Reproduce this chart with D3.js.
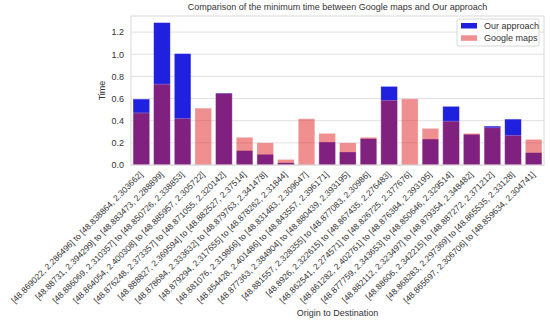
<!DOCTYPE html>
<html>
<head>
<meta charset="utf-8">
<script src="https://cdn.jsdelivr.net/npm/d3@7"></script>
<style>
  body { margin: 0; background: #fff; }
  text { font-family: Arial, "Liberation Sans", sans-serif; fill: #333; }
</style>
</head>
<body>
<svg id="viz" width="550" height="320"></svg>
<script>
/* min travel time: our approach vs google maps */

const routes = [
  "[48.869022, 2.286496] to [48.838864, 2.303662]",
  "[48.88731, 2.394299] to [48.883473, 2.288899]",
  "[48.886069, 2.310357] to [48.850726, 2.338853]",
  "[48.864054, 2.400308] to [48.885957, 2.305722]",
  "[48.876248, 2.373357] to [48.871055, 2.320142]",
  "[48.888827, 2.369594] to [48.882527, 2.37514]",
  "[48.878684, 2.333632] to [48.879763, 2.341478]",
  "[48.879294, 2.317655] to [48.878262, 2.31844]",
  "[48.881076, 2.319866] to [48.831483, 2.309647]",
  "[48.854428, 2.401486] to [48.843557, 2.396171]",
  "[48.877363, 2.384904] to [48.880439, 2.393195]",
  "[48.881557, 2.328355] to [48.877083, 2.30986]",
  "[48.8926, 2.322615] to [48.867435, 2.276483]",
  "[48.862541, 2.274571] to [48.826725, 2.377676]",
  "[48.861282, 2.402761] to [48.876384, 2.393195]",
  "[48.877759, 2.343653] to [48.850646, 2.329514]",
  "[48.882112, 2.323497] to [48.879354, 2.348482]",
  "[48.88606, 2.342215] to [48.887272, 2.371212]",
  "[48.868283, 2.297369] to [48.865535, 2.33128]",
  "[48.865697, 2.306706] to [48.859634, 2.304741]"
];

const ourTimes = [0.595, 1.285, 1.005, 0, 0.65, 0.13, 0.096, 0.02, 0, 0.207,
                  0.117, 0.237, 0.709, 0, 0.234, 0.529, 0.276, 0.351, 0.414, 0.111];

const googleTimes = [0.47, 0.73, 0.42, 0.513, 0.645, 0.25, 0.2, 0.05, 0.417, 0.285,
                     0.2, 0.25, 0.583, 0.597, 0.33, 0.396, 0.285, 0.336, 0.267, 0.231];

const yTicks = [0, 0.2, 0.4, 0.6, 0.8, 1.0, 1.2];

const series = [
  { name: "Our approach", values: ourTimes,    color: "rgb(32,32,223)", opacity: 1 },
  { name: "Google maps",  values: googleTimes, color: "rgb(223,32,32)", opacity: 0.5 }
];

const svg = d3.select("#viz");
const m = { left: 131, right: 544, top: 16, bottom: 165 };

const x = d3.scaleBand().domain(routes).range([m.left, m.right]).paddingInner(0.2).paddingOuter(0.1);
const y = d3.scaleLinear().domain([0, 1.345]).range([m.bottom, m.top]);

// grid
svg.append("g").selectAll("line")
  .data(yTicks)
  .enter().append("line")
    .attr("x1", m.left).attr("x2", m.right)
    .attr("y1", d => y(d)).attr("y2", d => y(d))
    .attr("stroke", "#e0e0e0").attr("stroke-width", 1);

// bars
series.forEach(s => {
  svg.append("g").selectAll("rect")
    .data(s.values.map((v, i) => ({ v, r: routes[i] })))
    .enter().append("rect")
      .attr("x", d => x(d.r))
      .attr("width", x.bandwidth())
      .attr("y", d => y(d.v))
      .attr("height", d => y(0) - y(d.v))
      .attr("fill", s.color)
      .attr("fill-opacity", s.opacity)
      .attr("stroke", "#fff").attr("stroke-opacity", 0.4).attr("stroke-width", 0.6);
});

// frame
svg.append("rect")
  .attr("x", m.left).attr("y", m.top)
  .attr("width", m.right - m.left).attr("height", m.bottom - m.top)
  .attr("fill", "none").attr("stroke", "#d8d8d8").attr("stroke-width", 1);

// y axis
const yAxis = svg.append("g")
  .attr("transform", `translate(${m.left},0)`)
  .call(d3.axisLeft(y).tickValues(yTicks).tickFormat(d3.format(".1f")).tickSize(0).tickPadding(7));
yAxis.select(".domain").remove();
yAxis.selectAll("text").attr("font-size", 9).attr("fill", "#333");

// x axis labels
const xAxis = svg.append("g")
  .attr("transform", `translate(0,${m.bottom})`)
  .call(d3.axisBottom(x).tickSize(0).tickPadding(0));
xAxis.select(".domain").remove();
xAxis.selectAll("text")
  .attr("font-size", 8.5)
  .attr("fill", "#333")
  .attr("text-anchor", "end")
  .attr("dy", 0)
  .attr("transform", "translate(2,10) rotate(-45)");

// titles
svg.append("text")
  .attr("x", (m.left + m.right) / 2).attr("y", 10)
  .attr("text-anchor", "middle").attr("font-size", 9)
  .text("Comparison of the minimum time between Google maps and Our approach");

svg.append("text")
  .attr("x", (m.left + m.right) / 2).attr("y", 316)
  .attr("text-anchor", "middle").attr("font-size", 9)
  .text("Origin to Destination");

svg.append("text")
  .attr("transform", `translate(105,${(m.top + m.bottom) / 2}) rotate(-90)`)
  .attr("text-anchor", "middle").attr("font-size", 9)
  .text("Time");

// legend
const lg = svg.append("g").attr("transform", "translate(457,19)");
lg.append("rect")
  .attr("width", 82).attr("height", 27).attr("rx", 2)
  .attr("fill", "#fff").attr("fill-opacity", 0.8)
  .attr("stroke", "#d8d8d8");
series.forEach((s, i) => {
  lg.append("rect")
    .attr("x", 4).attr("y", 4 + i * 12.3)
    .attr("width", 16).attr("height", 5.5)
    .attr("fill", s.color).attr("fill-opacity", s.opacity);
  lg.append("text")
    .attr("x", 27).attr("y", 10 + i * 12.3)
    .attr("font-size", 9)
    .text(s.name);
});
</script>
</body>
</html>
